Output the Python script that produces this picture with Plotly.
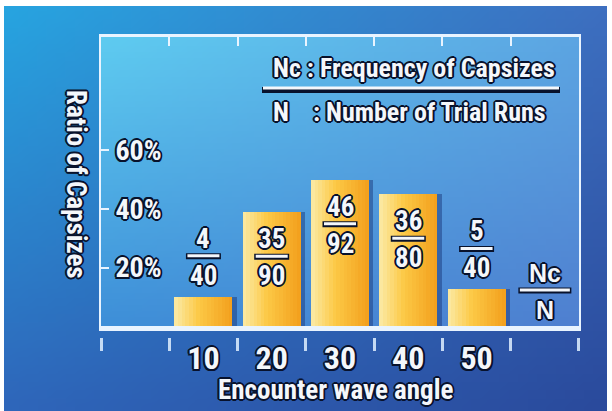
import base64
import struct
import zlib

import numpy as np
import plotly.graph_objects as go

# ---- data -------------------------------------------------------------
ANGLES = ["10", "20", "30", "40", "50"]          # encounter wave angle (deg)
CAPSIZES = [4, 35, 46, 36, 5]                     # Nc : frequency of capsizes
TRIAL_RUNS = [40, 90, 92, 80, 40]                 # N  : number of trial runs
Y_TICKS = [0.2, 0.4, 0.6]

KEY_SLOT = "Nc/N"
SLOTS = ["start"] + ANGLES + [KEY_SLOT]           # empty slot | angles | key slot
RATIOS = [c / n for c, n in zip(CAPSIZES, TRIAL_RUNS)]

# ---- styling helpers --------------------------------------------------
W, H = 612, 411
NARROW = "'Roboto Condensed', 'DejaVu Sans Condensed', sans-serif"
WIDE = "'Liberation Sans', Arial, sans-serif"
INK = "#f4f7fb"
EDGE = "#08122c"
FRAME = "#e9f4ff"


def outline(px=1.9, color=EDGE):
    d = px * 0.72
    offs = [(px, 0), (-px, 0), (0, px), (0, -px), (d, d), (-d, d), (d, -d), (-d, -d)]
    return ", ".join(f"{dx:.1f}px {dy:.1f}px 0 {color}" for dx, dy in offs) + f", 0 0 2px {color}"


def font(size, family=NARROW):
    return dict(family=family, size=size, color=INK, weight=700, shadow=outline())


def hex_rgb(h):
    h = h.lstrip("#")
    return np.array([int(h[i:i + 2], 16) for i in (0, 2, 4)], dtype=float)


def gradient_png(tl, tr, bl, br, w=64, h=48):
    """Bilinear four-corner gradient encoded as a PNG data URI."""
    u = np.linspace(0, 1, w)[None, :, None]
    v = np.linspace(0, 1, h)[:, None, None]
    c = ((1 - u) * (1 - v) * hex_rgb(tl) + u * (1 - v) * hex_rgb(tr)
         + (1 - u) * v * hex_rgb(bl) + u * v * hex_rgb(br))
    arr = np.clip(np.round(c), 0, 255).astype(np.uint8)
    raw = b"".join(b"\x00" + arr[r].tobytes() for r in range(h))

    def chunk(tag, data):
        return (struct.pack(">I", len(data)) + tag + data
                + struct.pack(">I", zlib.crc32(tag + data) & 0xFFFFFFFF))

    png = (b"\x89PNG\r\n\x1a\n"
           + chunk(b"IHDR", struct.pack(">IIBBBBB", w, h, 8, 2, 0, 0, 0))
           + chunk(b"IDAT", zlib.compress(raw, 9))
           + chunk(b"IEND", b""))
    return "data:image/png;base64," + base64.b64encode(png).decode()


def lerp_color(stops, t):
    for (t0, c0), (t1, c1) in zip(stops, stops[1:]):
        if t <= t1:
            f = (t - t0) / (t1 - t0)
            c = hex_rgb(c0) * (1 - f) + hex_rgb(c1) * f
            return "rgb({:.0f},{:.0f},{:.0f})".format(*c)
    return stops[-1][1]


# ---- figure -----------------------------------------------------------
fig = go.Figure()

BAR_W = 0.85
n_slices = 16
bar_stops = [(0.0, "#fbeaa6"), (0.42, "#fcc946"), (1.0, "#f29f1c")]

# soft shadow on the right side of each bar
fig.add_trace(go.Bar(
    x=ANGLES, y=RATIOS, width=BAR_W, offset=-BAR_W / 2 + 0.065,
    marker=dict(color="rgba(22,48,115,0.45)", line_width=0), hoverinfo="skip",
))

# bars drawn as thin vertical slices to give a left-to-right colour gradient
step = BAR_W / n_slices
for i in range(n_slices):
    last = i == n_slices - 1
    fig.add_trace(go.Bar(
        x=ANGLES, y=RATIOS,
        width=step if last else step * 1.35,
        offset=-BAR_W / 2 + i * step,
        marker=dict(color=lerp_color(bar_stops, (i + 0.5) / n_slices), line_width=0),
        hoverinfo="skip",
    ))

# registers every slot on the category axis
fig.add_trace(go.Scatter(x=SLOTS, y=[0] * len(SLOTS), mode="markers",
                         marker=dict(opacity=0), hoverinfo="skip"))
# empty traces that bring up the tick-mark axes
fig.add_trace(go.Scatter(x=[], y=[], xaxis="x2", yaxis="y2", hoverinfo="skip"))
fig.add_trace(go.Scatter(x=[], y=[], xaxis="x3", yaxis="y", hoverinfo="skip"))

# ---- fraction labels Nc / N on each bar ---------------------------------
shapes = []
annotations = []


def fraction(slot, y, line_off, top, bottom, size, family, half_len):
    x = SLOTS.index(slot)   # category position of the slot
    shapes.append(dict(type="line", xref="x", yref="y", layer="above",
                       xsizemode="pixel", xanchor=x, x0=-half_len - 1.5, x1=half_len + 1.5,
                       ysizemode="pixel", yanchor=y, y0=line_off - 0.5, y1=line_off - 0.5,
                       line=dict(color=EDGE, width=6)))
    shapes.append(dict(type="line", xref="x", yref="y", layer="above",
                       xsizemode="pixel", xanchor=x, x0=-half_len, x1=half_len,
                       ysizemode="pixel", yanchor=y, y0=line_off, y1=line_off,
                       line=dict(color=INK, width=3)))
    annotations.append(dict(x=x, y=y, xref="x", yref="y", text=top, showarrow=False,
                            yanchor="middle", yshift=line_off + 17, font=font(size, family)))
    annotations.append(dict(x=x, y=y, xref="x", yref="y", text=bottom, showarrow=False,
                            yanchor="middle", yshift=line_off - 20, font=font(size, family)))


for ang, r, c, n in zip(ANGLES, RATIOS, CAPSIZES, TRIAL_RUNS):
    off = -44 if r > 0.3 else 41
    fraction(ang, r, off, str(c), str(n), 27, NARROW, 16)

fraction(KEY_SLOT, 0, 36, "Nc", "N", 25, WIDE, 25)


# ---- key, axis titles ---------------------------------------------------
def py(pix):
    return 1 - pix / H


annotations += [
    dict(x=271 / W, y=py(68), xref="paper", yref="paper", xanchor="left", yanchor="middle",
         text="Nc : Frequency of Capsizes", showarrow=False, font=font(26)),
    dict(x=271 / W, y=py(112), xref="paper", yref="paper", xanchor="left", yanchor="middle",
         text="N    : Number of Trial Runs", showarrow=False, font=font(26)),
    dict(x=335 / W, y=py(390), xref="paper", yref="paper", xanchor="center", yanchor="middle",
         text="Encounter wave angle", showarrow=False, font=font(27)),
    dict(x=76 / W, y=py(184), xref="paper", yref="paper", xanchor="center", yanchor="middle",
         text="Ratio of Capsizes", textangle=90, showarrow=False, font=font(27)),
]
shapes += [
    dict(type="line", xref="paper", yref="paper", x0=262 / W, x1=560 / W,
         y0=py(90), y1=py(90), line=dict(color=EDGE, width=6)),
    dict(type="line", xref="paper", yref="paper", x0=263 / W, x1=559 / W,
         y0=py(88), y1=py(88), line=dict(color=INK, width=3)),
]

# ---- backgrounds -------------------------------------------------------
outer = gradient_png("#27a4e0", "#3d6fc0", "#2e66ba", "#2a4a9c")
inner = gradient_png("#5ecbf0", "#5ca5e2", "#3e8fd8", "#4f80d0")
images = [
    dict(source=outer, xref="paper", yref="paper", x=4 / W, y=py(6),
         sizex=603 / W, sizey=405 / H, xanchor="left", yanchor="top",
         sizing="stretch", layer="below"),
    dict(source=inner, xref="x domain", yref="y domain", x=0, y=1, sizex=1, sizey=1,
         xanchor="left", yanchor="top", sizing="stretch", layer="below"),
]

x_range = [-0.5, len(SLOTS) - 0.5]
pad = 0.01
boundaries = [i - 0.5 for i in range(len(SLOTS) + 1)]
x_dom = [101 / W, 579 / W]

fig.update_layout(
    width=W, height=H, autosize=False,
    margin=dict(l=0, r=0, t=0, b=0),
    paper_bgcolor="white", plot_bgcolor="rgba(0,0,0,0)",
    barmode="overlay", bargap=0, showlegend=False,
    images=images, shapes=shapes, annotations=annotations,
    xaxis=dict(
        type="category", categoryorder="array", categoryarray=SLOTS,
        range=x_range, domain=x_dom,
        tickmode="array", tickvals=ANGLES, ticktext=ANGLES,
        ticks="", showgrid=False, zeroline=False,
        showline=True, linewidth=5, linecolor=FRAME,
        tickfont=font(32), ticklabelstandoff=0,
    ),
    # row of slot-boundary tick marks under the baseline
    xaxis2=dict(
        domain=x_dom, anchor="y2", side="bottom",
        range=[x_range[0] - pad, x_range[1] + pad], tickmode="array", tickvals=boundaries,
        ticks="outside", ticklen=13, tickwidth=3, tickcolor="rgba(225,240,255,0.85)",
        showticklabels=False, showgrid=False, zeroline=False, showline=False,
    ),
    yaxis2=dict(domain=[py(337), py(335)], anchor="x2", range=[0, 1],
                showticklabels=False, ticks="", showgrid=False, zeroline=False,
                showline=False),
    xaxis3=dict(
        overlaying="x", anchor="y", side="top",
        range=x_range, tickmode="array", tickvals=boundaries[1:-1],
        ticks="inside", ticklen=9, tickwidth=2, tickcolor=FRAME,
        showticklabels=False, showgrid=False, zeroline=False,
        showline=True, linewidth=3, linecolor=FRAME,
    ),
    yaxis=dict(
        domain=[py(326), py(37)], range=[0, 0.988],
        tickmode="array", tickvals=Y_TICKS, tickformat=".0%",
        ticks="inside", ticklen=8, tickwidth=2, tickcolor=FRAME,
        ticklabelposition="inside", ticklabelstandoff=9,
        tickfont=font(28),
        showgrid=False, zeroline=False,
        showline=True, linewidth=2, linecolor=FRAME, mirror=True,
    ),
)

fig.write_html("out.html")
